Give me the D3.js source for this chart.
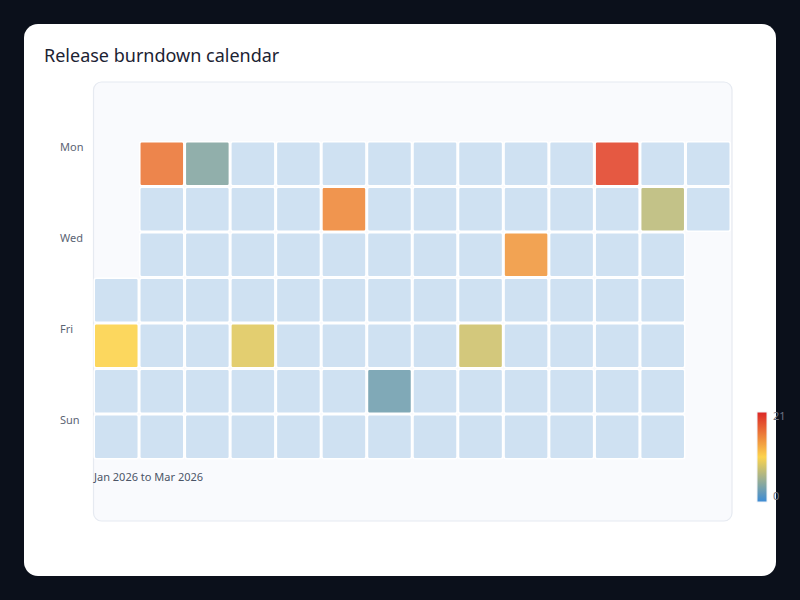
<!DOCTYPE html>
<html>
<head>
<meta charset="utf-8">
<script src="https://cdn.jsdelivr.net/npm/d3@7"></script>
<style>
  html, body { margin: 0; padding: 0; background: #0b101b; }
  svg { display: block; }
  text { font-family: "Noto Sans", "Open Sans", sans-serif; }
</style>
</head>
<body>
<svg id="chart" width="800" height="600"></svg>
<script>
// ---- data ----
const title = "Release burndown calendar";
const subtitle = "Jan 2026 to Mar 2026";
const startDate = "2026-01-01";
const dayNames = ["Mon", "Tue", "Wed", "Thu", "Fri", "Sat", "Sun"];
const dayTickLabels = ["Mon", "Wed", "Fri", "Sun"];
const janValues = [0, 10.5, 0, 0, 16, 0, 0, 0, 0, 0, 0, 4, 0, 0, 0, 0, 0, 0, 0, 0, 0, 0, 9, 0, 0, 0, 0, 0, 0, 0, 0];
const febValues = [0, 0, 15, 0, 0, 0, 0, 0, 0, 0, 0, 0, 0, 3, 0, 0, 0, 0, 0, 0, 0, 0, 0, 0, 0, 0, 8, 0];
const marValues = [0, 0, 0, 14, 0, 0, 0, 0, 0, 0, 0, 0, 0, 0, 0, 19, 0, 0, 0, 0, 0, 0, 0, 7, 0, 0, 0, 0, 0, 0, 0];
const colorDomain = [0, 10.5, 21];
const colorRange = ["#3b8bd6", "#fcd34d", "#dc2626"];
const legendTicks = [0, 21];
const emptyColor = "#cfe1f2";

// ---- build day records ----
const values = janValues.concat(febValues, marValues);
const parse = d3.utcParse("%Y-%m-%d");
const start = parse(startDate);
const firstMonday = d3.utcMonday.floor(start);
const days = values.map((v, i) => {
  const date = d3.utcDay.offset(start, i);
  return {
    date,
    value: v,
    week: d3.utcMonday.count(firstMonday, date),
    dow: (date.getUTCDay() + 6) % 7
  };
});
const weeks = d3.range(d3.max(days, d => d.week) + 1);

const svg = d3.select("#chart");

// card
svg.append("rect").attr("x", 24).attr("y", 24).attr("width", 752).attr("height", 552)
  .attr("rx", 14).attr("fill", "#ffffff");

svg.append("text").attr("x", 44).attr("y", 62).attr("font-size", 18)
  .attr("fill", "#1c2333").text(title);

// panel
svg.append("rect").attr("x", 93.5).attr("y", 82).attr("width", 638.5).attr("height", 439)
  .attr("rx", 8).attr("fill", "#f9fafd").attr("stroke", "#e6eaf1").attr("stroke-width", 1.2);

// scales
const x = d3.scaleBand().domain(weeks).range([93.5, 731]).padding(0);
const y = d3.scaleBand().domain(dayNames).range([141, 459.5]).padding(0);
const color = d3.scaleLinear().domain(colorDomain).range(colorRange).interpolate(d3.interpolateRgb);

// cells
svg.append("g").selectAll("rect").data(days).join("rect")
  .attr("x", d => x(d.week) + 0.75)
  .attr("y", d => y(dayNames[d.dow]) + 0.75)
  .attr("width", x.bandwidth() - 1.5)
  .attr("height", y.bandwidth() - 1.5)
  .attr("rx", 2)
  .attr("fill", d => d.value > 0 ? color(d.value) : emptyColor)
  .attr("fill-opacity", d => d.value > 0 ? 0.9 : 1)
  .attr("stroke", "#ffffff")
  .attr("stroke-width", 1.5);

// day labels
svg.append("g").selectAll("text").data(dayTickLabels).join("text")
  .attr("x", 60)
  .attr("y", d => y(d) + 7.5)
  .attr("dominant-baseline", "middle")
  .attr("font-size", 11)
  .attr("fill", "#5b6474")
  .text(d => d);

// subtitle
svg.append("text").attr("x", 94).attr("y", 478).attr("dominant-baseline", "middle")
  .attr("font-size", 11).attr("fill", "#4b5567").text(subtitle);

// colorbar
const defs = svg.append("defs");
const grad = defs.append("linearGradient").attr("id", "cbar")
  .attr("x1", 0).attr("y1", 1).attr("x2", 0).attr("y2", 0);
d3.range(0, 1.0001, 0.05).forEach(t => {
  grad.append("stop").attr("offset", t)
    .attr("stop-color", color(colorDomain[0] + t * (colorDomain[2] - colorDomain[0])));
});
const cb = d3.scaleLinear().domain([colorDomain[0], colorDomain[2]]).range([502, 412]);
svg.append("rect").attr("x", 757).attr("y", cb(colorDomain[2])).attr("width", 10)
  .attr("height", cb(colorDomain[0]) - cb(colorDomain[2]))
  .attr("fill", "url(#cbar)").attr("stroke", "#f1f3f7").attr("stroke-width", 1);
svg.append("g").selectAll("text").data(legendTicks).join("text")
  .attr("x", 773)
  .attr("y", d => cb(d) + (d === 0 ? -5 : 5))
  .attr("dominant-baseline", "middle")
  .attr("font-size", 11)
  .attr("fill", "#6b7384")
  .text(d => d);
</script>
</body>
</html>
